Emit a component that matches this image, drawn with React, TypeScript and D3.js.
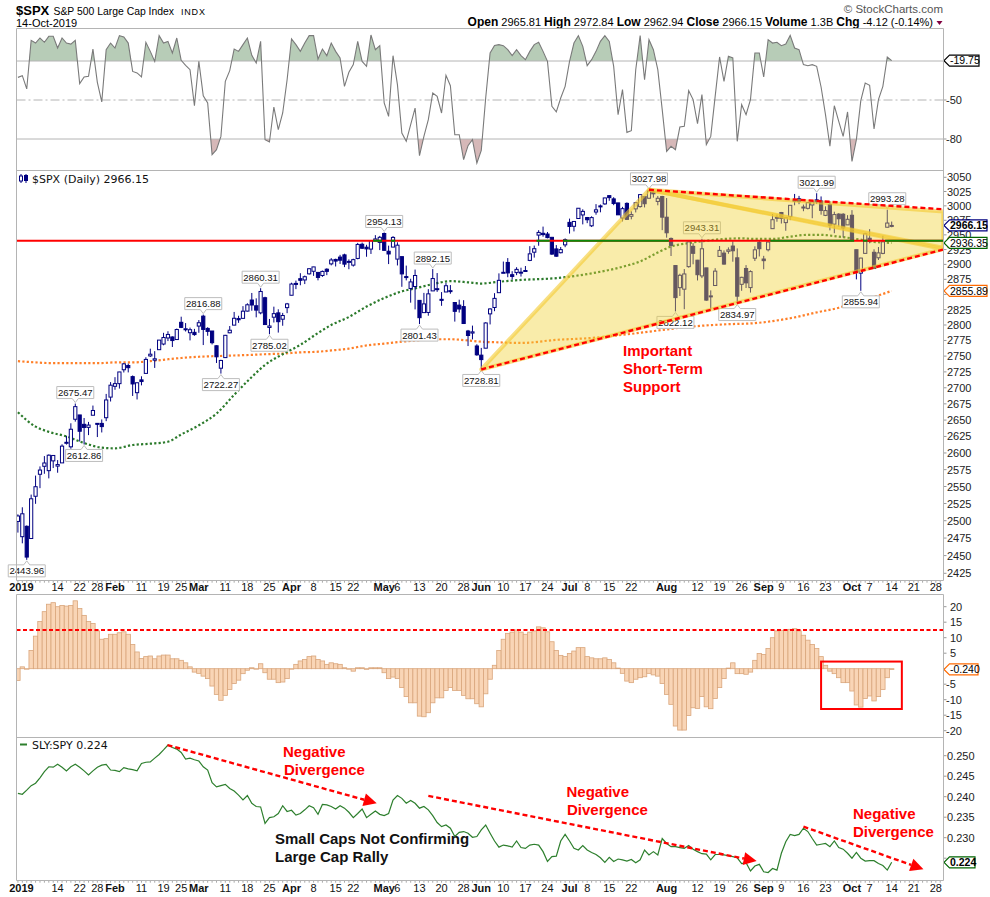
import React from "react";
import * as d3 from "d3";

// ---------- DATA ----------
// Daily OHLC, index 0 = 31-Dec-2018, index 1 = 2-Jan-2019 ... index 198 = 14-Oct-2019
const candles: [number, number, number, number][] = [
  [2498.94, 2509.24, 2482.82, 2506.85],
  [2476.96, 2519.49, 2467.47, 2510.03], [2491.92, 2493.14, 2443.96, 2447.89], [2474.33, 2538.07, 2474.33, 2531.94],
  [2535.61, 2566.16, 2524.56, 2549.69], [2568.11, 2579.82, 2547.56, 2574.41], [2580.0, 2595.32, 2568.89, 2584.96],
  [2573.51, 2597.82, 2562.02, 2596.64], [2588.11, 2596.27, 2577.4, 2596.26], [2580.31, 2589.32, 2570.41, 2582.61],
  [2585.1, 2613.08, 2585.1, 2610.3], [2614.75, 2625.76, 2612.68, 2616.1], [2609.28, 2645.06, 2606.36, 2635.96],
  [2651.27, 2675.47, 2647.58, 2670.71], [2657.88, 2657.88, 2617.27, 2632.9], [2643.48, 2653.19, 2612.86, 2638.7],
  [2638.84, 2647.2, 2627.01, 2642.33], [2657.44, 2672.38, 2657.33, 2664.76], [2644.97, 2644.97, 2624.06, 2643.85],
  [2644.89, 2650.93, 2631.05, 2640.0], [2653.62, 2690.44, 2648.34, 2681.05], [2685.49, 2708.95, 2678.65, 2704.1],
  // Feb
  [2702.32, 2716.66, 2696.88, 2706.53], [2706.49, 2724.99, 2698.75, 2724.87], [2728.34, 2738.98, 2724.03, 2737.7],
  [2735.05, 2738.08, 2724.15, 2731.61], [2717.53, 2719.32, 2687.26, 2706.05], [2692.36, 2708.07, 2681.83, 2707.88],
  [2712.4, 2718.05, 2703.79, 2709.8], [2722.61, 2748.19, 2722.61, 2744.73], [2750.3, 2761.85, 2748.63, 2753.03],
  [2743.5, 2757.9, 2731.23, 2745.73], [2760.24, 2775.66, 2760.24, 2775.6], [2769.28, 2787.33, 2767.29, 2779.76],
  [2779.05, 2789.88, 2774.06, 2784.7], [2780.67, 2781.58, 2764.55, 2774.88], [2776.5, 2794.2, 2776.0, 2792.67],
  [2804.35, 2813.49, 2794.99, 2796.11], [2792.36, 2803.12, 2789.47, 2793.9], [2787.5, 2795.76, 2775.13, 2792.38],
  [2788.11, 2793.73, 2782.51, 2784.49],
  // Mar
  [2798.22, 2808.02, 2787.38, 2803.69], [2814.37, 2816.88, 2767.66, 2792.81], [2794.41, 2796.44, 2782.54, 2789.65],
  [2790.27, 2790.27, 2768.69, 2771.45], [2766.53, 2767.25, 2739.09, 2748.93], [2730.79, 2744.13, 2722.27, 2743.07],
  [2747.61, 2784.0, 2747.61, 2783.3], [2787.34, 2798.32, 2786.73, 2791.52], [2799.78, 2821.24, 2799.78, 2810.92],
  [2810.38, 2815.0, 2803.46, 2808.48], [2810.79, 2830.73, 2810.79, 2822.48], [2822.61, 2835.41, 2821.99, 2832.94],
  [2840.76, 2852.42, 2823.27, 2832.57], [2831.34, 2843.54, 2812.43, 2824.23], [2819.72, 2860.31, 2817.38, 2854.88],
  [2844.52, 2846.16, 2800.47, 2800.71], [2796.01, 2809.79, 2785.02, 2798.36], [2812.66, 2829.87, 2803.99, 2818.46],
  [2819.72, 2825.56, 2787.72, 2805.37], [2809.4, 2819.71, 2798.77, 2815.44], [2828.27, 2836.03, 2819.23, 2834.4],
  // Apr
  [2848.63, 2869.4, 2848.63, 2867.19], [2868.24, 2872.9, 2858.75, 2867.24], [2876.09, 2885.25, 2865.17, 2873.4],
  [2873.99, 2881.28, 2867.14, 2879.39], [2884.16, 2893.24, 2882.99, 2892.74], [2888.46, 2895.95, 2880.78, 2895.77],
  [2886.58, 2886.88, 2873.33, 2878.2], [2881.37, 2889.71, 2879.13, 2888.21], [2891.92, 2893.42, 2881.99, 2888.32],
  [2900.86, 2910.54, 2898.37, 2907.41], [2908.32, 2909.6, 2896.48, 2905.58], [2912.26, 2916.06, 2900.71, 2907.06],
  [2916.04, 2918.0, 2895.45, 2900.45], [2904.81, 2908.4, 2891.9, 2905.03], [2898.78, 2909.51, 2896.35, 2907.97],
  [2909.99, 2936.31, 2908.53, 2933.68], [2934.0, 2936.83, 2926.05, 2927.25], [2928.99, 2933.1, 2912.84, 2926.17],
  [2925.81, 2939.88, 2917.56, 2939.88], [2940.58, 2949.52, 2939.35, 2943.03], [2937.14, 2948.22, 2924.11, 2945.83],
  // May
  [2952.33, 2954.13, 2923.36, 2923.73], [2922.16, 2931.68, 2900.5, 2917.52], [2929.21, 2947.85, 2929.21, 2945.64],
  [2908.89, 2937.32, 2898.21, 2932.47], [2913.03, 2913.03, 2862.6, 2884.05], [2879.61, 2897.96, 2873.28, 2879.42],
  [2859.84, 2875.97, 2836.4, 2870.72], [2863.1, 2891.31, 2825.39, 2881.4], [2840.19, 2840.19, 2801.43, 2811.87],
  [2820.12, 2852.54, 2820.12, 2834.41], [2820.38, 2858.68, 2815.08, 2850.96], [2855.8, 2892.15, 2855.8, 2876.32],
  [2858.6, 2885.48, 2854.23, 2859.53], [2841.94, 2853.86, 2831.29, 2840.23], [2854.02, 2868.88, 2854.02, 2864.36],
  [2856.06, 2865.47, 2851.11, 2856.27], [2836.7, 2836.7, 2805.49, 2822.24], [2832.41, 2841.36, 2820.19, 2826.06],
  [2830.03, 2840.51, 2801.58, 2802.39], [2790.25, 2792.03, 2766.06, 2783.02], [2786.94, 2799.0, 2776.74, 2788.86],
  [2766.15, 2768.98, 2750.52, 2752.06],
  // Jun
  [2751.53, 2763.07, 2728.81, 2744.45], [2762.64, 2804.49, 2762.64, 2803.27], [2818.09, 2827.28, 2800.92, 2826.15],
  [2828.51, 2852.1, 2822.45, 2843.49], [2852.87, 2884.97, 2852.87, 2873.34], [2885.83, 2904.77, 2885.51, 2886.73],
  [2903.27, 2910.61, 2878.53, 2885.72], [2882.73, 2888.57, 2874.68, 2879.84], [2886.24, 2895.24, 2881.99, 2891.64],
  [2886.82, 2894.45, 2879.62, 2886.98], [2889.75, 2897.27, 2887.3, 2889.67], [2906.71, 2930.79, 2905.44, 2917.75],
  [2920.55, 2931.74, 2911.43, 2926.46], [2949.6, 2958.06, 2931.5, 2954.18], [2952.71, 2964.15, 2946.87, 2950.46],
  [2951.42, 2954.92, 2944.05, 2945.35], [2945.78, 2946.52, 2916.01, 2917.38], [2926.07, 2932.59, 2912.99, 2913.78],
  [2919.66, 2929.3, 2918.57, 2924.92], [2932.94, 2943.98, 2929.05, 2941.76],
  // Jul
  [2971.41, 2977.93, 2952.22, 2964.33], [2964.66, 2973.21, 2955.92, 2973.01], [2978.08, 2995.84, 2977.96, 2995.82],
  [2984.25, 2994.03, 2967.97, 2990.41], [2979.77, 2980.76, 2970.09, 2975.95], [2965.52, 2981.9, 2963.44, 2979.63],
  [2989.3, 3002.98, 2984.62, 2993.07], [2999.62, 3002.33, 2988.8, 2999.91], [3003.36, 3013.92, 3001.87, 3013.77],
  [3017.8, 3017.8, 3008.77, 3014.3], [3012.13, 3015.02, 3001.15, 3004.04], [3005.1, 3005.26, 2984.25, 2984.42],
  [2978.87, 2998.28, 2973.09, 2995.11], [3004.26, 3006.02, 2975.86, 2976.61], [2981.93, 2990.71, 2976.65, 2985.03],
  [2994.74, 3005.9, 2988.56, 3005.47], [2998.77, 3019.59, 2996.82, 3019.56], [3016.26, 3016.31, 2997.24, 3003.67],
  [3013.25, 3027.98, 3012.59, 3025.86], [3024.47, 3025.61, 3014.3, 3020.97], [3007.66, 3017.19, 3000.94, 3013.18],
  [3016.22, 3017.4, 2958.08, 2980.38],
  // Aug
  [2980.32, 3013.59, 2945.23, 2953.56], [2943.9, 2945.5, 2914.11, 2932.05], [2898.07, 2898.07, 2822.12, 2844.74],
  [2861.18, 2884.4, 2847.42, 2881.77], [2858.65, 2892.17, 2825.71, 2883.98], [2896.21, 2938.72, 2894.47, 2938.09],
  [2930.51, 2935.75, 2900.15, 2918.65], [2907.07, 2907.58, 2873.14, 2882.7], [2880.72, 2943.31, 2877.05, 2926.32],
  [2894.15, 2894.15, 2839.64, 2840.6], [2846.2, 2856.67, 2825.51, 2847.6], [2864.74, 2893.63, 2864.74, 2888.68],
  [2913.48, 2931.0, 2913.48, 2923.65], [2919.01, 2923.63, 2899.6, 2900.51], [2922.04, 2928.73, 2917.91, 2924.43],
  [2930.94, 2939.08, 2904.51, 2922.95], [2911.07, 2927.01, 2834.97, 2847.11], [2866.7, 2879.27, 2856.0, 2878.38],
  [2893.14, 2898.79, 2860.59, 2869.16], [2861.28, 2890.03, 2853.05, 2887.94], [2910.37, 2930.5, 2905.67, 2924.58],
  [2937.09, 2940.43, 2913.32, 2926.46],
  // Sep
  [2909.01, 2914.39, 2891.85, 2906.27], [2924.67, 2938.84, 2921.86, 2937.78], [2960.6, 2985.86, 2960.6, 2976.0],
  [2980.33, 2985.03, 2972.51, 2978.71], [2988.43, 2989.43, 2969.39, 2978.43], [2971.01, 2979.39, 2957.01, 2979.39],
  [2981.41, 3000.93, 2975.31, 3000.93], [3009.08, 3020.74, 3000.92, 3009.57], [3012.21, 3017.33, 3002.9, 3007.39],
  [2996.41, 3002.19, 2990.67, 2997.96], [2995.67, 3006.21, 2993.73, 3005.7], [3001.5, 3007.83, 2978.57, 3006.73],
  [3010.36, 3021.99, 3003.16, 3006.79], [3008.42, 3016.37, 2984.68, 2992.07], [2983.5, 2999.15, 2982.23, 2991.78],
  [3002.43, 3007.98, 2957.73, 2966.6], [2968.35, 2989.82, 2952.86, 2984.87], [2985.73, 2987.28, 2963.71, 2977.62],
  [2985.47, 2987.31, 2945.53, 2961.79], [2967.07, 2983.85, 2967.07, 2976.74],
  // Oct
  [2983.69, 2992.53, 2938.7, 2940.25], [2924.78, 2924.78, 2874.93, 2887.61], [2885.38, 2911.13, 2855.94, 2910.63],
  [2918.56, 2953.74, 2918.56, 2952.01], [2944.23, 2959.75, 2935.68, 2938.79], [2920.4, 2925.47, 2892.66, 2893.06],
  [2911.1, 2929.32, 2907.41, 2919.4], [2918.55, 2948.46, 2917.12, 2938.13], [2963.07, 2993.28, 2963.07, 2970.27],
  [2965.81, 2972.84, 2962.94, 2966.15],
];

// Top panel oscillator (0 .. -100)
const williams = [
  -32.6, -31.3, -41.5, -4.1, -6.2, -2.3, -5.6, -1, -1, -10, -2.3, -6.2, -7, -4.1, -37.4, -32.3, -31.8, -10.8, -36.4, -51.5,
  -11.3, -6.2, -10, -0.5, -1.5, -6.2, -28, -29.2, -32.3, -5.6, -12.6, -20.3, -0.5, -6.2, -4.9, -13.8, -2.3, -19.5, -23.3, -26.7,
  -54.4, -20.3, -46.7, -52.3, -92, -88.2, -78, -35.6, -27.4, -10.8, -12.6, -7.4, -2.3, -15.6, -21.5, -4.9, -80.5, -82.3, -55.4, -72.8,
  -60, -34.4, -3, -7.4, -12.6, -6.2, -0.5, -0.5, -18.5, -10.8, -15.9, -6.2, -12.6, -17.7, -39.5, -28.7, -22.8, -4.9, -20.3, -24.1,
  0, -11.3, -8.2, -52.3, -62.6, -15.9, -38.2, -75.4, -81.8, -69, -56.2, -92.8, -78, -65.1, -44.6, -47.2, -60, -31, -39, -76.7,
  -76.7, -95.9, -85.1, -80.5, -98.5, -88.7, -48.5, -13.8, -8, -7.4, -8.2, -11.3, -15.9, -11.3, -15.9, -19, -12.6, -7.4, -5.6, -12.6,
  -20.3, -54.9, -59.2, -48.5, -39.5, -20.3, -6.2, -0.5, -8.7, -23.6, -19, -12.6, -4.9, -0.5, -4.9, -24.1, -61.3, -42, -74.9, -73.6,
  -26.7, -0.5, -34.4, -3.6, -11.3, -26.7, -57.4, -89.5, -85.6, -88.2, -70.8, -70.3, -42.8, -49.7, -68.2, -45.9, -84.4, -78, -47.2, -16.9,
  -35.6, -16.4, -17.7, -81.8, -53.6, -61.3, -49.7, -13.8, -13.8, -32.3, -3.6, -6.2, -5.6, -8.2, -6.9, -0.3, -10, -11.3, -22.8, -23.6,
  -22.8, -24.1, -40, -61.3, -85.6, -54.4, -66.4, -78, -59.2, -97.2, -80.5, -50.5, -37, -38.7, -72.3, -49.7, -39.5, -16.9, -19.75,
];

// Histogram panel
const momentum = [
  -3.8, 0.6, 0, 5.9, 10.5, 15.2, 18.4, 20.8, 21.3, 20, 20.4, 20.2, 20.4, 21.9, 19.4, 17.2, 15.2, 14.6, 12.2, 9.5,
  9.7, 11.1, 11.1, 11.6, 11.9, 11.1, 7.8, 5.4, 3.3, 3.9, 4.1, 3.2, 4.1, 4.4, 4.4, 3.2, 3.2, 2.7, 1.9, 0.6,
  -1.1, -1.5, -2.4, -3.2, -5.6, -8.3, -10.2, -8.6, -6.7, -4.8, -3.7, -1.6, -0.5, 0.3, 0, 1.6, -1.3, -3.4, -3.4, -4.5,
  -4.3, -3.2, 0, 1.4, 2.5, 3, 3.9, 4.1, 3, 2.5, 1.4, 1.9, 1.6, 1.4, 0.3, 0, -0.8, 0.3, 0.3, -0.2,
  0.3, 0.3, 0.3, -1.3, -3.2, -2.7, -3.2, -6.1, -9, -11, -11, -15.3, -15.5, -14.2, -11, -9.4, -9.4, -7, -6.1, -7,
  -7, -8.6, -9.7, -9.7, -11.3, -12.3, -8.1, -3.4, 1.1, 5.9, 9.5, 11.4, 11.8, 12.5, 11.8, 11.1, 11.8, 12.2, 13.5, 13.2,
  11.9, 8.7, 5.9, 4.3, 3.9, 4.9, 5.7, 6.8, 6.8, 3.9, 3.5, 3.2, 3.2, 3.5, 3, 1.9, 0.2, -1.5, -4, -4.5,
  -3.4, -2.9, -2.6, -1.5, -2, -2.4, -4.8, -8.3, -11.5, -18.5, -19.8, -19.8, -15.1, -12.6, -12.8, -9, -12.3, -12.9, -9.6, -6.1,
  -3.2, 0.2, 1.9, -1.6, -1.6, -1.8, -1.1, 2.7, 4.9, 4.6, 6.5, 10, 12.2, 12.4, 12.4, 12.7, 12.9, 12.2, 10.8, 9.2,
  7.8, 6.5, 3.9, 1.1, -0.8, -1.6, -2.9, -4.5, -4.5, -7.2, -11.7, -12.4, -9.6, -8.8, -10.4, -9, -6.7, -2.9, -0.24,
];

// SLY:SPY ratio
const slySpy = [
  0.2408, 0.2406, 0.2416, 0.2427, 0.2433, 0.2446, 0.2461, 0.2473, 0.2472, 0.2479, 0.2472, 0.2463, 0.2473, 0.2479, 0.2472, 0.2463, 0.2453, 0.2463, 0.2472, 0.2477,
  0.2479, 0.2465, 0.2464, 0.2461, 0.2471, 0.2468, 0.2466, 0.2463, 0.2481, 0.2484, 0.2485, 0.2494, 0.2503, 0.2514, 0.2526, 0.252, 0.2516, 0.2508, 0.2492, 0.2494,
  0.249, 0.2487, 0.2473, 0.2465, 0.2434, 0.2424, 0.2427, 0.243, 0.242, 0.2414, 0.2404, 0.2392, 0.2403, 0.2384, 0.2376, 0.2375, 0.2335, 0.2349, 0.2351, 0.2359,
  0.2378, 0.2364, 0.2367, 0.2355, 0.2359, 0.2368, 0.2378, 0.2373, 0.2357, 0.2381, 0.238, 0.2376, 0.237, 0.2378, 0.2372, 0.2362, 0.2349, 0.2359, 0.237, 0.2349,
  0.2357, 0.2365, 0.2357, 0.2354, 0.2359, 0.2392, 0.2403, 0.2396, 0.2384, 0.2391, 0.2384, 0.2372, 0.2376, 0.2368, 0.2354, 0.2337, 0.2327, 0.2331, 0.2323, 0.2303,
  0.2313, 0.2315, 0.2311, 0.2301, 0.2303, 0.2319, 0.2331, 0.2311, 0.2292, 0.2277, 0.2282, 0.228, 0.2277, 0.2292, 0.2276, 0.2274, 0.2282, 0.2284, 0.2282, 0.2266,
  0.2242, 0.2254, 0.2255, 0.2292, 0.2308, 0.2292, 0.2274, 0.227, 0.2281, 0.227, 0.2264, 0.2259, 0.2251, 0.224, 0.2252, 0.2242, 0.2248, 0.2246, 0.2243, 0.2247,
  0.2239, 0.2246, 0.227, 0.2258, 0.2266, 0.2258, 0.2298, 0.2286, 0.2278, 0.2278, 0.2276, 0.2274, 0.2281, 0.2272, 0.2266, 0.2261, 0.226, 0.2246, 0.2259, 0.2259,
  0.2258, 0.2256, 0.2254, 0.2251, 0.2237, 0.2239, 0.2219, 0.2231, 0.2235, 0.2217, 0.2215, 0.2225, 0.2221, 0.2262, 0.229, 0.2308, 0.2305, 0.2308, 0.2323, 0.2315,
  0.2298, 0.2282, 0.2284, 0.2286, 0.2278, 0.2292, 0.2276, 0.2272, 0.2262, 0.225, 0.2264, 0.225, 0.2243, 0.2244, 0.2244, 0.2237, 0.2232, 0.2221, 0.224,
];

// Moving averages, sampled [day index, value]
const ma50: [number, number][] = [
  [0, 2662], [4, 2640], [7, 2632], [11, 2625], [15, 2615], [19, 2608], [22, 2607], [26, 2612], [30, 2614], [34, 2617],
  [37, 2628], [41, 2642], [45, 2660], [49, 2689], [53, 2717], [56, 2736], [60, 2753], [64, 2768], [68, 2787], [71, 2800],
  [75, 2813], [79, 2830], [83, 2844], [87, 2855], [90, 2860], [94, 2867], [98, 2872], [102, 2870], [105, 2868], [109, 2871],
  [114, 2874], [122, 2877], [130, 2885], [137, 2896], [141, 2905], [145, 2920], [148, 2930], [152, 2936], [156, 2940], [160, 2943],
  [164, 2944], [167, 2943], [171, 2943], [175, 2947], [179, 2950], [182, 2950], [186, 2947], [190, 2943], [194, 2938], [198, 2936.35],
];
const ma200: [number, number][] = [
  [0, 2742], [4, 2740], [7, 2739], [11, 2739], [15, 2739], [19, 2739], [22, 2740], [26, 2740], [30, 2742], [34, 2745],
  [37, 2747], [41, 2749], [45, 2750], [49, 2751], [53, 2752], [56, 2753], [60, 2754], [64, 2756], [68, 2757], [71, 2759],
  [75, 2762], [79, 2767], [83, 2770], [87, 2773], [90, 2775], [94, 2777], [98, 2777], [102, 2775], [105, 2773], [109, 2772],
  [114, 2771], [122, 2776], [130, 2779], [137, 2784], [145, 2791], [152, 2797], [160, 2801], [167, 2803], [175, 2811], [182, 2822],
  [186, 2828], [190, 2838], [194, 2846], [198, 2855.89],
];

// right-axis tick values (ticks fully covered by the last-value boxes are omitted, as in the original)
const priceTicks = [3050, 3025, 3000, 2975, 2950, 2925, 2900, 2875, 2825, 2800, 2775, 2750, 2725, 2700, 2675, 2650, 2625, 2600, 2575, 2550, 2525, 2500, 2475, 2450, 2425];
const momTicks = [20, 15, 10, 5, -5, -10, -15, -20];
const ratioTicks = [0.25, 0.245, 0.24, 0.235, 0.23];
const wrTicks = [-50, -80];

const xTickIdx = [1, 9, 14, 18, 22, 28, 33, 37, 41, 47, 52, 57, 62, 67, 72, 76, 83, 86, 91, 96, 101, 105, 110, 115, 120, 125, 129, 134, 139, 147, 154, 159, 164, 169, 173, 178, 183, 189, 193, 198, 203, 208];
const xTickLabels = ["2019", "14", "22", "28", "Feb", "11", "19", "25", "Mar", "11", "18", "25", "Apr", "8", "15", "22", "May", "6", "13", "20", "28", "Jun", "10", "17", "24", "Jul", "8", "15", "22", "Aug", "12", "19", "26", "Sep", "9", "16", "23", "Oct", "7", "14", "21", "28"];

const callouts: { i: number; p: number; hi: boolean }[] = [
  { i: 2, p: 2443.96, hi: false }, { i: 15, p: 2612.86, hi: false }, { i: 13, p: 2675.47, hi: true },
  { i: 42, p: 2816.88, hi: true }, { i: 46, p: 2722.27, hi: false }, { i: 55, p: 2860.31, hi: true },
  { i: 57, p: 2785.02, hi: false }, { i: 83, p: 2954.13, hi: true }, { i: 94, p: 2892.15, hi: true },
  { i: 91, p: 2801.43, hi: false }, { i: 105, p: 2728.81, hi: false }, { i: 143, p: 3027.98, hi: true },
  { i: 149, p: 2822.12, hi: false }, { i: 155, p: 2943.31, hi: true }, { i: 163, p: 2834.97, hi: false },
  { i: 181, p: 3021.99, hi: true }, { i: 191, p: 2855.94, hi: false }, { i: 197, p: 2993.28, hi: true },
];

// annotations (data coordinates)
const resistanceLevel = 2940;
const wedgeA: [number, number][] = [[105, 2728.81], [143, 3027.98], [209.7, 2926]];
const wedgeB: [number, number][] = [[143, 3027.98], [209.7, 2990], [209.7, 2928]];
const trendUpper: [number, number][] = [[143, 3027.98], [209.7, 2994]];
const trendLower: [number, number][] = [[105, 2728.81], [209.7, 2925]];
const ratioArrows: [number, number, number, number][] = [
  [33.9, 0.2526, 81.3, 0.2384],
  [93, 0.2402, 167.4, 0.2243],
  [178, 0.2327, 205.2, 0.2223],
];
const momThreshold = 12.5;
const momBox = { i0: 182, i1: 200.3, v0: 2.3, v1: -13 };

// ---------- LAYOUT ----------
const W = 990, H = 897;
const L = 16.5, R = 943.5;
const P1 = { t: 28.5, b: 170.5 };
const P2 = { t: 170.5, b: 580.5 };
const P3 = { t: 594.5, b: 737.5 };
const P4 = { t: 737.5, b: 880.5 };

const x = d3.scaleLinear().domain([-0.32, 209.74]).range([L, R]);
const step = x(1) - x(0);
const yW = d3.scaleLinear().domain([0, -100]).range([35, 165]);
const yP = d3.scaleLog().domain([3050, 2425]).range([177.3, 573.3]);
const yH = d3.scaleLinear().domain([20, -20]).range([606.7, 730.7]);
const yR = d3.scaleLinear().domain([0.25, 0.23]).range([755.7, 837.7]);

const NAVY = "#000080";
const RED = "#ff0000";
const GRID = "#b4b4b4";
const SANS = "'Liberation Sans', Arial, sans-serif";
const DJ = "'DejaVu Sans', Verdana, sans-serif";

function ValueBox({ y, text, color, bold, x2 }: { y: number; text: string; color: string; bold?: boolean; x2: number }) {
  const x0 = 944, x1 = 949.5;
  return (
    <g>
      <path d={`M${x0},${y} L${x1},${y - 5.5} H${x2} V${y + 5.5} H${x1} Z`} fill="#fff" stroke={color} strokeWidth={1.2} />
      <text x={x1 + 0.5} y={y + 3.8} fontFamily={SANS} fontSize={10.5} fontWeight={bold ? "bold" : "normal"} fill="#000">{text}</text>
    </g>
  );
}

function Callout({ cx, cy, text, hi }: { cx: number; cy: number; text: string; hi: boolean }) {
  const w = 37, h = 12, n = 5;
  const l = cx - w / 2, r = cx + w / 2;
  let d: string, ty: number;
  if (hi) {
    const b = cy - n, t = b - h;
    d = `M${l},${t} H${r} V${b} H${cx + 3} L${cx},${cy - 1} L${cx - 3},${b} H${l} Z`;
    ty = t + 9.5;
  } else {
    const t = cy + n, b = t + h;
    d = `M${l},${t} H${cx - 3} L${cx},${cy + 1} L${cx + 3},${t} H${r} V${b} H${l} Z`;
    ty = t + 9.5;
  }
  return (
    <g>
      <path d={d} fill="#fff" stroke="#bdbdbd" strokeWidth={1} />
      <text x={cx} y={ty} textAnchor="middle" fontFamily={SANS} fontSize={9.6} fill="#111">{text}</text>
    </g>
  );
}

function arrowParts(x1: number, y1: number, x2: number, y2: number) {
  const a = Math.atan2(y2 - y1, x2 - x1);
  const len = 13, hw = 6.5;
  const bx = x2 - len * Math.cos(a), by = y2 - len * Math.sin(a);
  const nx = -Math.sin(a), ny = Math.cos(a);
  return {
    line: `M${x1},${y1} L${bx},${by}`,
    head: `M${x2},${y2} L${bx + hw * nx},${by + hw * ny} L${bx - hw * nx},${by - hw * ny} Z`,
  };
}

function DateAxis({ y0, baseline }: { y0: number; baseline: number }) {
  const ticks = d3.range(0, 210);
  const bold = (s: string) => /[A-Za-z]/.test(s) || s === "2019";
  return (
    <g>
      {ticks.map((i) => (
        <rect key={i} x={x(i) - 0.5} y={y0} width={1} height={2.2} fill="#aaa" />
      ))}
      {xTickIdx.map((i, k) => (
        <text key={k} x={k === 0 ? 21.5 : x(i)} y={baseline} textAnchor="middle" fontFamily={SANS} fontSize={11}
          fontWeight={bold(xTickLabels[k]) ? "bold" : "normal"} fill="#111">{xTickLabels[k]}</text>
      ))}
    </g>
  );
}

export default function App() {
  const wrLine = d3.line<number>().x((_, i) => x(i)).y((v) => yW(v))(williams)!;
  const wrAreaG = d3.area<number>().x((_, i) => x(i)).y0(yW(-20)).y1((v) => yW(v))(williams)!;
  const wrAreaR = d3.area<number>().x((_, i) => x(i)).y0(yW(-80)).y1((v) => yW(v))(williams)!;

  const maLine = d3.line<[number, number]>().x((d) => x(d[0])).y((d) => yP(d[1])).curve(d3.curveMonotoneX);
  const ratioLine = d3.line<number>().x((_, i) => x(i)).y((v) => yR(v))(slySpy)!;
  const poly = (pts: [number, number][]) => pts.map((p, k) => `${k ? "L" : "M"}${x(p[0])},${yP(p[1])}`).join(" ") + " Z";
  const seg = (pts: [number, number][]) => `M${x(pts[0][0])},${yP(pts[0][1])} L${x(pts[1][0])},${yP(pts[1][1])}`;

  const yRes = yP(resistanceLevel);
  // green where close is above the level
  const greenSegs: [number, number][] = [];
  candles.forEach((c, i) => {
    if (c[3] > resistanceLevel) {
      const a = x(i - 0.5), b = i === candles.length - 1 ? R : x(i + 0.5);
      const last = greenSegs[greenSegs.length - 1];
      if (last && Math.abs(last[1] - a) < 0.01) last[1] = b; else greenSegs.push([a, b]);
    }
  });

  const boldLbl = { fontWeight: "bold" as const, fontSize: 12 };

  return (
    <svg width={W} height={H} viewBox={`0 0 ${W} ${H}`} style={{ display: "block", background: "#fff", position: "absolute", left: 0, top: 0 }}>
      <defs>
        <clipPath id="cp1"><rect x={L} y={P1.t} width={R - L} height={P1.b - P1.t} /></clipPath>
        <clipPath id="cp1g"><rect x={L} y={P1.t} width={R - L} height={yW(-20) - P1.t} /></clipPath>
        <clipPath id="cp1r"><rect x={L} y={yW(-80)} width={R - L} height={P1.b - yW(-80)} /></clipPath>
        <clipPath id="cp2"><rect x={L} y={P2.t} width={R - L} height={P2.b - P2.t} /></clipPath>
        <clipPath id="cp3"><rect x={L} y={P3.t} width={R - L} height={P3.b - P3.t} /></clipPath>
        <clipPath id="cp4"><rect x={L} y={P4.t} width={R - L} height={P4.b - P4.t} /></clipPath>
      </defs>
      <rect x={0} y={0} width={W} height={H} fill="#fff" />

      {/* ---------- HEADER ---------- */}
      <text x={16} y={15} fontFamily={SANS} fontSize={13} fontWeight="bold" fill="#000">$SPX</text>
      <text x={53.5} y={14.5} fontFamily={SANS} fontSize={10.4} fill="#000">S&amp;P 500 Large Cap Index</text>
      <text x={181} y={14.5} fontFamily={SANS} fontSize={9} letterSpacing={0.8} fill="#000">INDX</text>
      <text x={16} y={26.5} fontFamily={SANS} fontSize={11} fill="#000">14-Oct-2019</text>
      <text x={943} y={13} textAnchor="end" fontFamily={SANS} fontSize={11.5} fill="#555">© StockCharts.com</text>
      <text x={933} y={26} textAnchor="end" fontFamily={SANS} fontSize={11} fill="#000">
        <tspan {...boldLbl}>Open</tspan><tspan> 2965.81  </tspan>
        <tspan {...boldLbl}>High</tspan><tspan> 2972.84  </tspan>
        <tspan {...boldLbl}>Low</tspan><tspan> 2962.94  </tspan>
        <tspan {...boldLbl}>Close</tspan><tspan> 2966.15  </tspan>
        <tspan {...boldLbl}>Volume</tspan><tspan> 1.3B  </tspan>
        <tspan {...boldLbl}>Chg</tspan><tspan> -4.12 (-0.14%)</tspan>
      </text>
      <path d="M936.5,21 L942.5,21 L939.5,25 Z" fill="#800040" />

      {/* ---------- PANEL 1 ---------- */}
      <g clipPath="url(#cp1)">
        <path d={wrAreaG} fill="#b7ccb7" clipPath="url(#cp1g)" />
        <path d={wrAreaR} fill="#d6b8b8" clipPath="url(#cp1r)" />
        <line x1={L} x2={R} y1={yW(-20)} y2={yW(-20)} stroke={GRID} strokeWidth={1} />
        <line x1={L} x2={R} y1={yW(-80)} y2={yW(-80)} stroke={GRID} strokeWidth={1} />
        <line x1={L} x2={R} y1={yW(-50)} y2={yW(-50)} stroke={GRID} strokeWidth={1} strokeDasharray="9,3,2,3" />
        <path d={wrLine} fill="none" stroke="#7a7a7a" strokeWidth={1.1} />
      </g>
      {[-20, ...wrTicks].map((v) => (
        <line key={v} x1={R} x2={R + 3} y1={yW(v)} y2={yW(v)} stroke="#999" />
      ))}
      {wrTicks.map((v) => (
        <text key={v} x={946} y={yW(v) + 4} fontFamily={SANS} fontSize={11} fill="#222">{v}</text>
      ))}
      <ValueBox y={yW(-19.75)} text="-19.75" color="#000" x2={979} />

      {/* ---------- PANEL 2 ---------- */}
      <g clipPath="url(#cp2)">
        <path d={maLine(ma200)!} fill="none" stroke="#ff7f27" strokeWidth={2.2} strokeDasharray="2.2,2.2" />
        <path d={maLine(ma50)!} fill="none" stroke="#2b7a2b" strokeWidth={2.2} strokeDasharray="2.2,2.2" />
        {candles.map(([o, h, l, c], i) => {
          const cx = x(i);
          const top = yP(Math.max(o, c)), bot = yP(Math.min(o, c));
          const up = c >= o;
          return (
            <g key={i}>
              <line x1={cx} x2={cx} y1={yP(h)} y2={yP(l)} stroke={NAVY} strokeWidth={1} />
              <rect x={cx - 1.6} y={top} width={3.2} height={Math.max(1, bot - top)} fill={up ? "#fff" : NAVY} stroke={NAVY} strokeWidth={1} />
            </g>
          );
        })}
      </g>
      {callouts.map((c, k) => (
        <Callout key={k} cx={x(c.i)} cy={yP(c.p)} text={c.p.toFixed(2)} hi={c.hi} />
      ))}
      <g clipPath="url(#cp2)">
        <path d={poly(wedgeA)} fill="#f1d134" fillOpacity={0.42} stroke="#f4c92e" strokeOpacity={0.6} strokeWidth={4} strokeLinejoin="round" />
        <path d={poly(wedgeB)} fill="#f1d134" fillOpacity={0.42} stroke="#f4c92e" strokeOpacity={0.6} strokeWidth={4} strokeLinejoin="round" />
        <line x1={L} x2={R} y1={yRes} y2={yRes} stroke={RED} strokeWidth={2} />
        {greenSegs.map((s, k) => (
          <line key={k} x1={s[0]} x2={s[1]} y1={yRes} y2={yRes} stroke="#0a8a0a" strokeWidth={2} />
        ))}
        <path d={seg(trendUpper)} stroke={RED} strokeWidth={2.4} strokeDasharray="5,3" fill="none" />
        <path d={seg(trendLower)} stroke={RED} strokeWidth={2.4} strokeDasharray="5,3" fill="none" />
      </g>
      <g fontFamily={SANS} fontSize={15} fontWeight="bold" fill={RED}>
        <text x={623} y={356}>Important</text>
        <text x={623} y={374}>Short-Term</text>
        <text x={623} y={392}>Support</text>
      </g>
      {/* legend */}
      <g>
        <line x1={21} x2={21} y1={174} y2={183} stroke={NAVY} />
        <rect x={19.5} y={176} width={3} height={5} fill="#fff" stroke={NAVY} strokeWidth={1} />
        <line x1={26} x2={26} y1={174} y2={183} stroke={NAVY} />
        <rect x={24.5} y={175.5} width={3} height={5} fill={NAVY} stroke={NAVY} strokeWidth={1} />
        <text x={32} y={182.5} fontFamily={DJ} fontSize={11} fill="#111">$SPX (Daily) 2966.15</text>
      </g>
      {[...priceTicks, 2850].map((v) => (
        <line key={v} x1={R} x2={R + 3} y1={yP(v)} y2={yP(v)} stroke="#999" />
      ))}
      {priceTicks.map((v) => (
        <text key={v} x={947} y={yP(v) + 4} fontFamily={SANS} fontSize={11} fill="#222">{v}</text>
      ))}
      <ValueBox y={yP(2966.15)} text="2966.15" color={NAVY} bold x2={987} />
      <ValueBox y={yP(2936.35)} text="2936.35" color="#006400" x2={987} />
      <ValueBox y={yP(2855.89)} text="2855.89" color="#ff6a00" x2={987} />

      {/* ---------- DATE AXIS (middle) ---------- */}
      <DateAxis y0={P2.b} baseline={590.8} />

      {/* ---------- PANEL 3 ---------- */}
      <g clipPath="url(#cp3)">
        {momentum.map((v, i) => {
          const y0 = yH(0), y1 = yH(v);
          return (
            <rect key={i} x={x(i) - step / 2} y={Math.min(y0, y1)} width={step} height={Math.max(0.5, Math.abs(y1 - y0))}
              fill="#f9d5b6" stroke="#d9a67c" strokeWidth={0.8} />
          );
        })}
        <line x1={L} x2={R} y1={yH(momThreshold)} y2={yH(momThreshold)} stroke={RED} strokeWidth={2} strokeDasharray="4,2.5" />
        <rect x={x(momBox.i0)} y={yH(momBox.v0)} width={x(momBox.i1) - x(momBox.i0)} height={yH(momBox.v1) - yH(momBox.v0)}
          fill="none" stroke={RED} strokeWidth={2} />
      </g>
      {[...momTicks, 0].map((v) => (
        <line key={v} x1={R} x2={R + 3} y1={yH(v)} y2={yH(v)} stroke="#999" />
      ))}
      {momTicks.map((v) => (
        <text key={v} x={v < 0 ? 946 : 950} y={yH(v) + 4} fontFamily={SANS} fontSize={11} fill="#222">{v}</text>
      ))}
      <ValueBox y={yH(-0.24)} text="-0.240" color="#ff6a00" x2={978} />

      {/* ---------- PANEL 4 ---------- */}
      <g clipPath="url(#cp4)">
        <path d={ratioLine} fill="none" stroke="#2d7f2d" strokeWidth={1.2} />
        {ratioArrows.map((a, k) => {
          const p = arrowParts(x(a[0]), yR(a[1]), x(a[2]), yR(a[3]));
          return (
            <g key={k}>
              <path d={p.line} stroke={RED} strokeWidth={2.4} strokeDasharray="5,3" fill="none" />
              <path d={p.head} fill={RED} />
            </g>
          );
        })}
      </g>
      <g fontFamily={SANS} fontSize={15} fontWeight="bold" fill={RED}>
        <text x={283} y={756.5}>Negative</text>
        <text x={284} y={774.5}>Divergence</text>
        <text x={566.5} y={796.5}>Negative</text>
        <text x={567} y={814.5}>Divergence</text>
        <text x={853} y={818.5}>Negative</text>
        <text x={853} y={836.5}>Divergence</text>
      </g>
      <g fontFamily={SANS} fontSize={15} fontWeight="bold" fill="#111">
        <text x={275} y={843.5}>Small Caps Not Confirming</text>
        <text x={275} y={861.5}>Large Cap Rally</text>
      </g>
      <line x1={20} x2={27} y1={744.5} y2={744.5} stroke="#2d7f2d" strokeWidth={2} />
      <text x={32} y={748.5} fontFamily={DJ} fontSize={11} fill="#111">SLY:SPY 0.224</text>
      {[...ratioTicks, 0.225].map((v) => (
        <line key={v} x1={R} x2={R + 3} y1={yR(v)} y2={yR(v)} stroke="#999" />
      ))}
      {ratioTicks.map((v) => (
        <text key={v} x={947} y={yR(v) + 4} fontFamily={SANS} fontSize={11} fill="#222">{v.toFixed(3)}</text>
      ))}
      <ValueBox y={yR(0.224)} text="0.224" color="#006400" bold x2={975} />

      {/* ---------- BOTTOM DATE AXIS ---------- */}
      <DateAxis y0={P4.b} baseline={891.8} />

      {/* ---------- PANEL BORDERS ---------- */}
      <g fill="none" stroke={GRID} strokeWidth={1}>
        <line x1={L} x2={R} y1={P1.t} y2={P1.t} />
        <line x1={L} x2={R} y1={P2.t} y2={P2.t} />
        <line x1={L} x2={R} y1={P2.b} y2={P2.b} />
        <line x1={L} x2={R} y1={P3.t} y2={P3.t} />
        <line x1={L} x2={R} y1={P4.t} y2={P4.t} />
        <line x1={L} x2={R} y1={P4.b} y2={P4.b} />
        <line x1={L} x2={L} y1={P1.t} y2={P2.b} />
        <line x1={R} x2={R} y1={P1.t} y2={P2.b} />
        <line x1={L} x2={L} y1={P3.t} y2={P4.b} />
        <line x1={R} x2={R} y1={P3.t} y2={P4.b} />
      </g>
    </svg>
  );
}
